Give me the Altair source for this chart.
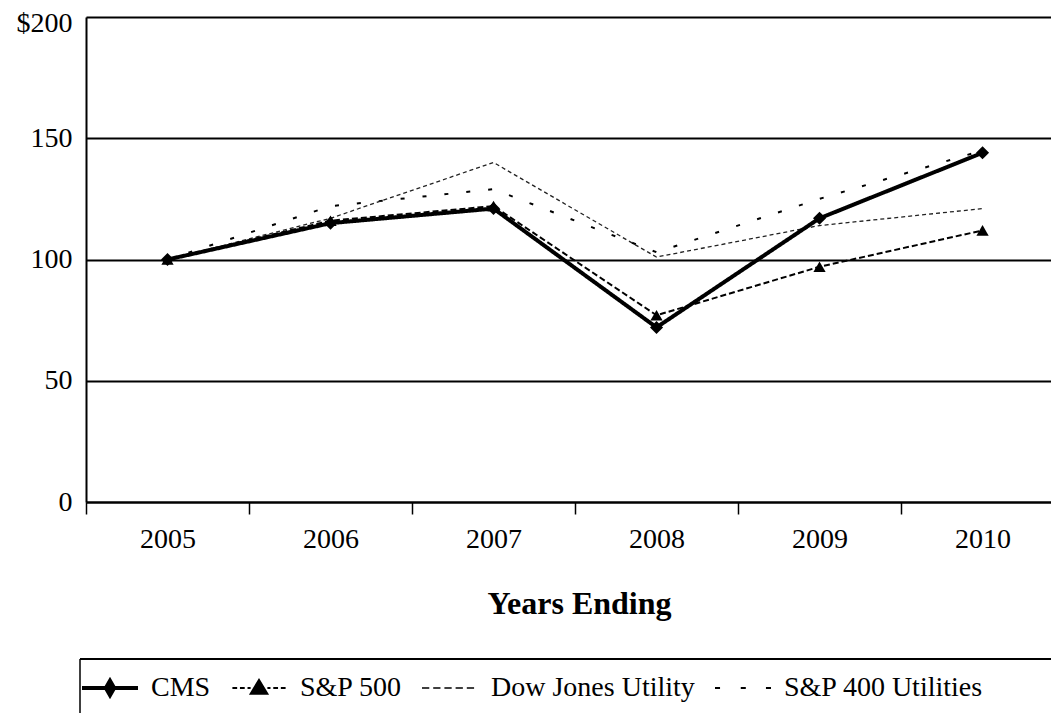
import altair as alt
import pandas as pd

years = [2005, 2006, 2007, 2008, 2009, 2010]
series = ["CMS", "S&P 500", "Dow Jones Utility", "S&P 400 Utilities"]
cms = [100, 115, 121, 72, 117, 144]
sp500 = [100, 116, 122, 77, 97, 112]
dow = [100, 117, 140, 101, 114, 121]
sp400 = [100, 122, 129, 103, 125, 145]
y_ticks = [0, 50, 100, 150, 200]
x_bounds = [2004.5, 2005.5, 2006.5, 2007.5, 2008.5, 2009.5]

rows = []
for name, vals in zip(series, [cms, sp500, dow, sp400]):
    for yr, v in zip(years, vals):
        rows.append({"year": yr, "value": v, "series": name})
df = pd.DataFrame(rows)

FONT = "Liberation Serif"
W, H = 965, 485
TOP = 9

x_enc = alt.X(
    "year:Q",
    scale=alt.Scale(domain=[2004.5, 2010.42], nice=False, zero=False),
    axis=alt.Axis(
        values=x_bounds,
        labelExpr="format(datum.value + 0.5, 'd')",
        labelOffset=81.5,
        labelFlush=False,
        labelOverlap=False,
        tickSize=12,
        tickWidth=1.5,
        tickColor="black",
        domainColor="black",
        domainWidth=2,
        labelFont=FONT,
        labelFontSize=28,
        labelColor="black",
        labelPadding=11,
        grid=False,
        title="Years Ending",
        titleFont=FONT,
        titleFontSize=32,
        titleFontWeight="bold",
        titleColor="black",
        titleX=493,
        titleY=111,
        titleBaseline="alphabetic",
        titleAlign="center",
    ),
)

y_enc = alt.Y(
    "value:Q",
    scale=alt.Scale(domain=[0, 200], nice=False, zero=True),
    axis=alt.Axis(
        values=y_ticks,
        labelExpr="datum.value == 200 ? '$200' : datum.label",
        labelOffset={"condition": {"test": "datum.value == 200", "value": 6}, "value": 0},
        ticks=False,
        tickSize=0,
        domainColor="black",
        domainWidth=2,
        grid=True,
        gridColor="black",
        gridWidth=2,
        gridOpacity=1,
        labelFont=FONT,
        labelFontSize=28,
        labelColor="black",
        labelPadding=14,
        labelFlush=False,
        title=None,
    ),
)


def line_layer(name, color, width, dash):
    return (
        alt.Chart(df)
        .transform_filter(alt.datum.series == name)
        .mark_line(color=color, strokeWidth=width, strokeDash=dash)
        .encode(x=x_enc, y=y_enc)
    )


def point_layer(name, shape, size):
    return (
        alt.Chart(df)
        .transform_filter(alt.datum.series == name)
        .mark_point(filled=True, shape=shape, size=size, color="black", opacity=1)
        .encode(x=x_enc, y=y_enc)
    )


legend_paths = [
    # CMS: thick solid line with a diamond
    "M-1,-0.07L1,-0.07L1,0.07L-1,0.07Z M0,-0.4L0.23,0L0,0.4L-0.23,0Z",
    # S&P 500: dashes with a triangle
    "M-0.95,-0.036L-0.78,-0.036L-0.78,0.036L-0.95,0.036Z "
    "M-0.68,-0.036L-0.51,-0.036L-0.51,0.036L-0.68,0.036Z "
    "M-0.41,-0.036L-0.3,-0.036L-0.3,0.036L-0.41,0.036Z "
    "M0.3,-0.036L0.41,-0.036L0.41,0.036L0.3,0.036Z "
    "M0.51,-0.036L0.68,-0.036L0.68,0.036L0.51,0.036Z "
    "M0.78,-0.036L0.95,-0.036L0.95,0.036L0.78,0.036Z "
    "M0,-0.36L0.36,0.24L-0.36,0.24Z",
    # Dow Jones Utility: fine dashes
    "M-1,-0.03L-0.74,-0.03L-0.74,0.03L-1,0.03Z "
    "M-0.6,-0.03L-0.34,-0.03L-0.34,0.03L-0.6,0.03Z "
    "M-0.2,-0.03L0.06,-0.03L0.06,0.03L-0.2,0.03Z "
    "M0.2,-0.03L0.46,-0.03L0.46,0.03L0.2,0.03Z "
    "M0.6,-0.03L0.86,-0.03L0.86,0.03L0.6,0.03Z",
    # S&P 400 Utilities: sparse dashes
    "M-1,-0.04L-0.82,-0.04L-0.82,0.04L-1,0.04Z "
    "M-0.08,-0.04L0.1,-0.04L0.1,0.04L-0.08,0.04Z "
    "M0.82,-0.04L1,-0.04L1,0.04L0.82,0.04Z",
]

legend_layer = (
    alt.Chart(df)
    .mark_point(filled=True, color="black", opacity=0)
    .encode(
        x=x_enc,
        y=y_enc,
        shape=alt.Shape(
            "series:N",
            scale=alt.Scale(domain=series, range=legend_paths),
            legend=alt.Legend(
                orient="none",
                legendX=-4,
                legendY=643 - (TOP - 9),
                direction="horizontal",
                columns=4,
                symbolSize=3136,
                symbolStrokeWidth=0,
                symbolOpacity=1,
                symbolFillColor="black",
                labelFont=FONT,
                labelFontSize=28,
                labelColor="black",
                labelOffset=13,
                labelLimit=400,
                columnPadding=20,
                padding=0,
                title=None,
            ),
        ),
    )
)

box_top = (
    alt.Chart(alt.Data(values=[{}]))
    .mark_rule(color="black", strokeWidth=2)
    .encode(x=alt.value(-6), x2=alt.value(W), y=alt.value(642 - (TOP - 9)))
)
box_left = (
    alt.Chart(alt.Data(values=[{}]))
    .mark_rule(color="black", strokeWidth=1.5)
    .encode(x=alt.value(-6), y=alt.value(642 - (TOP - 9)), y2=alt.value(700))
)

chart = alt.layer(
    line_layer("S&P 400 Utilities", "black", 2, [4, 18]),
    line_layer("Dow Jones Utility", "#222222", 1.3, [4, 3]),
    line_layer("S&P 500", "black", 2, [6, 3]),
    line_layer("CMS", "black", 4, [1, 0]),
    point_layer("S&P 500", "triangle-up", 150),
    point_layer("CMS", "diamond", 170),
    legend_layer,
    box_top,
    box_left,
).properties(
    width=W,
    height=H,
    padding={"left": 78, "top": TOP, "right": 0, "bottom": 705 - TOP - H},
    autosize=alt.AutoSizeParams(type="none"),
    background="white",
).configure_view(strokeWidth=0).configure(font=FONT).configure_axis(
    labelFont=FONT, titleFont=FONT
).configure_legend(labelFont=FONT)

chart.save("out.html", embed_options={"renderer": "svg", "actions": False})
